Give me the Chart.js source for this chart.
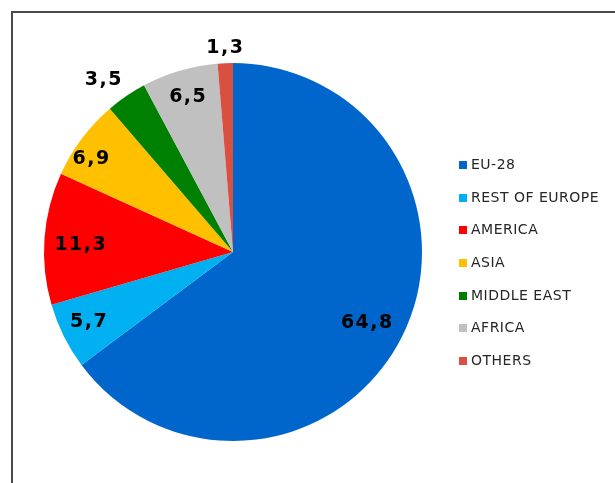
<!DOCTYPE html>
<html>
<head>
<meta charset="utf-8">
<script src="https://cdn.jsdelivr.net/npm/chart.js@4/dist/chart.umd.min.js"></script>
<style>
    html, body { margin: 0; padding: 0; background: #fff; overflow: hidden; }
    .frame {
        position: absolute; left: 11px; top: 11px; width: 700px; height: 600px;
        border-left: 2px solid #4a4a4a; border-top: 2px solid #4a4a4a;
    }
    .wrap { position: absolute; left: 0; top: 0; width: 615px; height: 483px; }
</style>
</head>
<body>
<div class="frame"></div>
<div class="wrap"><canvas id="regionChart"></canvas></div>
<script>
// share of exports by destination region (%)
const regions = ['EU-28', 'REST OF EUROPE', 'AMERICA', 'ASIA', 'MIDDLE EAST', 'AFRICA', 'OTHERS'];
const shares = [64.8, 5.7, 11.3, 6.9, 3.5, 6.5, 1.3];
const sliceColors = ['#0066CC', '#00B0F0', '#FF0000', '#FFC000', '#008000', '#C0C0C0', '#D95040'];

// label placement: fraction of radius and angle nudge (degrees) per slice
const labelRadius = [0.80, 0.85, 0.81, 0.90, 1.14, 0.854, 1.08];
const labelNudge = [1.3, 0.7, -1.5, -3.6, -2.7, 0, 0];

const sliceLabels = {
    id: 'sliceLabels',
    afterDatasetsDraw(chart) {
        const ctx = chart.ctx;
        const arcs = chart.getDatasetMeta(0).data;
        ctx.save();
        ctx.font = 'bold 19px "DejaVu Sans"';
        ctx.letterSpacing = '1.5px';
        ctx.fillStyle = '#000';
        ctx.textAlign = 'center';
        ctx.textBaseline = 'middle';
        arcs.forEach((arc, i) => {
            const p = arc.getProps(['x', 'y', 'startAngle', 'endAngle', 'outerRadius'], true);
            const mid = (p.startAngle + p.endAngle) / 2 + labelNudge[i] * Math.PI / 180;
            const r = p.outerRadius * labelRadius[i];
            const text = shares[i].toFixed(1).replace('.', ',');
            ctx.fillText(text, p.x + Math.cos(mid) * r + 0.75, p.y + Math.sin(mid) * r);
        });
        ctx.restore();
    }
};

// legend drawn to the right of the pie
const sideLegend = {
    id: 'sideLegend',
    afterDraw(chart) {
        const ctx = chart.ctx;
        ctx.save();
        ctx.font = '14px "DejaVu Sans"';
        ctx.letterSpacing = '0.5px';
        ctx.textBaseline = 'middle';
        regions.forEach((name, i) => {
            const y = 165 + i * 32.67;
            ctx.fillStyle = sliceColors[i];
            ctx.fillRect(459, Math.round(y) - 4, 8, 8);
            ctx.fillStyle = '#262626';
            ctx.fillText(name, 471, y + 0.5);
        });
        ctx.restore();
    }
};

new Chart(document.getElementById('regionChart'), {
    type: 'pie',
    data: {
        labels: regions,
        datasets: [{
            data: shares,
            backgroundColor: sliceColors,
            borderWidth: 0
        }]
    },
    options: {
        responsive: true,
        maintainAspectRatio: false,
        animation: false,
        layout: {
            padding: { left: 44, right: 193, top: 63, bottom: 42 }
        },
        plugins: {
            legend: { display: false },
            tooltip: { enabled: false }
        }
    },
    plugins: [sliceLabels, sideLegend]
});
</script>
</body>
</html>
